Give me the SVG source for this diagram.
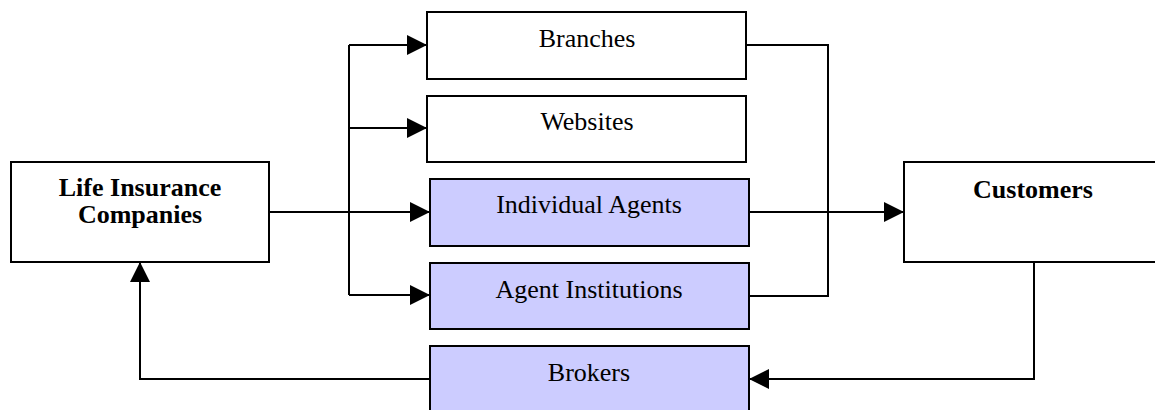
<svg xmlns="http://www.w3.org/2000/svg" width="1155" height="410" viewBox="0 0 1155 410">
<defs>
<style>
.box{fill:#ffffff;stroke:#000;stroke-width:2}
.ag{fill:#ccccff;stroke:#000;stroke-width:2}
.t{font-family:"Liberation Serif","Times New Roman",serif;font-size:26px;fill:#000;text-anchor:middle}
.b{font-weight:bold}
.ln{fill:none;stroke:#000;stroke-width:2}
</style>
<marker id="ah" markerUnits="userSpaceOnUse" markerWidth="20" markerHeight="20" viewBox="0 0 20 20" refX="20" refY="10" orient="auto">
<path d="M0,0 L20,10 L0,20 Z" fill="#000"/>
</marker>
</defs>
<rect width="1155" height="410" fill="#fff"/>
<g id="connectors">
<path class="ln" d="M269,212 L349,212"/>
<path class="ln" d="M349,45 L349,295"/>
<path class="ln" d="M349,45 L427,45" marker-end="url(#ah)"/>
<path class="ln" d="M349,128 L427,128" marker-end="url(#ah)"/>
<path class="ln" d="M349,212 L430,212" marker-end="url(#ah)"/>
<path class="ln" d="M349,295 L430,295" marker-end="url(#ah)"/>
<path class="ln" d="M746,45 L828,45 L828,296 L749,296"/>
<path class="ln" d="M749,212 L904,212" marker-end="url(#ah)"/>
<path class="ln" d="M1034,262 L1034,379 L749,379" marker-end="url(#ah)"/>
<path class="ln" d="M430,379 L140,379 L140,262" marker-end="url(#ah)"/>
</g>
<g id="life">
<rect class="box" x="11" y="162" width="258" height="100"/>
<text class="t b" x="140" y="196">Life Insurance</text>
<text class="t b" x="140" y="223">Companies</text>
</g>
<g id="branches">
<rect class="box" x="427" y="12" width="319" height="67"/>
<text class="t" x="587" y="47">Branches</text>
</g>
<g id="websites">
<rect class="box" x="427" y="96" width="319" height="66"/>
<text class="t" x="587" y="130">Websites</text>
</g>
<g id="individual">
<rect class="ag" x="430" y="179" width="319" height="67"/>
<text class="t" x="589" y="213">Individual Agents</text>
</g>
<g id="institutions">
<rect class="ag" x="430" y="263" width="319" height="66"/>
<text class="t" x="589" y="298">Agent Institutions</text>
</g>
<g id="brokers">
<rect class="ag" x="430" y="346" width="319" height="70"/>
<text class="t" x="589" y="381">Brokers</text>
</g>
<g id="customers">
<rect class="box" x="904" y="162" width="260" height="100"/>
<text class="t b" x="1033" y="198">Customers</text>
</g>
</svg>
